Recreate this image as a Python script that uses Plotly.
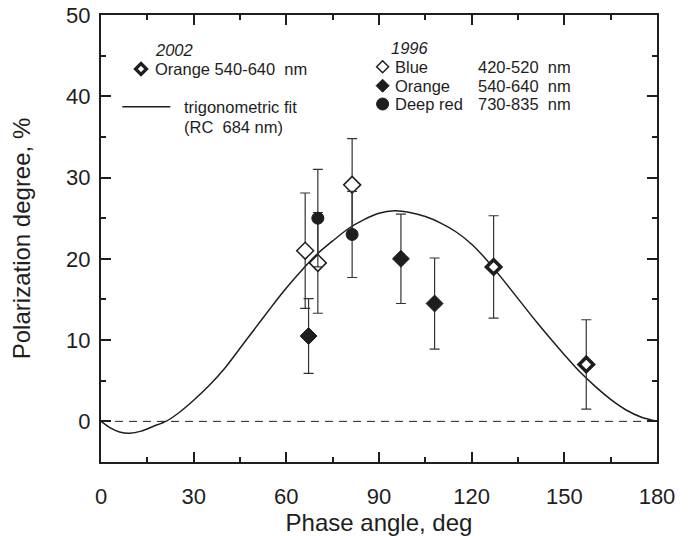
import plotly.graph_objects as go

# ---------------- data ----------------
blue96_angle = [66.1, 70.2, 81.3]
blue96_pol = [21.0, 19.5, 29.1]
blue96_err = [7.1, 6.2, 5.7]

orange96_angle = [67.2, 97.1, 108.0]
orange96_pol = [10.5, 20.0, 14.5]
orange96_err = [4.6, 5.5, 5.6]

red96_angle = [70.2, 81.3]
red96_pol = [25.0, 23.0]
red96_err = [6.0, 5.3]

orange02_angle = [127.1, 157.1]
orange02_pol = [19.0, 7.0]
orange02_err = [6.3, 5.5]

fit_angle = [0, 3, 6, 9.3, 13, 17, 21, 25, 30, 35, 40, 45, 50, 55, 60, 65, 70, 75, 80,
             85, 90, 95, 100, 105, 110, 115, 120, 125, 130, 135, 140, 145, 150, 155,
             160, 165, 170, 175, 180]
fit_pol = [0, -0.8, -1.3, -1.45, -1.2, -0.6, 0, 1.0, 2.6, 4.4, 6.5, 9.0, 11.5, 14.0, 16.4,
           18.6, 20.6, 22.2, 23.7, 24.8, 25.6, 25.9, 25.7, 25.2, 24.4, 23.3, 21.8, 19.8,
           17.5, 15.1, 12.7, 10.4, 8.2, 6.1, 4.3, 2.7, 1.4, 0.5, 0]

x_ticks = [0, 30, 60, 90, 120, 150, 180]
y_ticks = [0, 10, 20, 30, 40, 50]

INK = "#1e1e1e"
FONT = "Liberation Sans, Arial, sans-serif"

# plot area in pixels (for placing legend decorations)
L, R, T, B = 100.7, 656.7, 15.0, 462.0


def px(x):
    return (x - L) / (R - L)


def py(y):
    return (B - y) / (B - T)


fig = go.Figure()

fig.add_trace(go.Scatter(x=fit_angle, y=fit_pol, mode="lines",
                         line=dict(color=INK, width=1.5, shape="spline", smoothing=0.6),
                         hoverinfo="skip"))


def pts(xs, ys, errs, symbol, fill, lw, size):
    fig.add_trace(go.Scatter(
        x=xs, y=ys, mode="markers",
        error_y=dict(type="data", array=errs, visible=True, color="#333333",
                     thickness=1.2, width=5),
        marker=dict(symbol=symbol, size=size, color=fill, line=dict(color=INK, width=lw))))


pts(orange96_angle, orange96_pol, orange96_err, "diamond", INK, 1, 13)
pts(blue96_angle, blue96_pol, blue96_err, "diamond", "white", 1.5, 13)
pts(red96_angle, red96_pol, red96_err, "circle", INK, 1, 12)
pts(orange02_angle, orange02_pol, orange02_err, "diamond", "white", 3.5, 11)

shapes = [
    dict(type="line", xref="paper", x0=0, x1=1, yref="y", y0=0, y1=0,
         line=dict(color=INK, width=1, dash="8px,6px"), layer="below"),
    dict(type="line", xref="paper", yref="paper", x0=px(122), x1=px(170),
         y0=py(106.7), y1=py(106.7), line=dict(color=INK, width=1.5)),
]


def diamond(cx, cy, fill, lw, r=6):
    return dict(type="path", xref="paper", yref="paper", xsizemode="pixel", ysizemode="pixel",
                xanchor=px(cx), yanchor=py(cy),
                path=f"M 0 {r} L {r} 0 L 0 {-r} L {-r} 0 Z",
                fillcolor=fill, line=dict(color=INK, width=lw))


shapes.append(diamond(140.7, 69, "white", 3.2, 5.5))
shapes.append(diamond(382.3, 66.7, "white", 1.5, 6))
shapes.append(diamond(382.3, 85.7, INK, 1, 6.5))
shapes.append(dict(type="circle", xref="paper", yref="paper", xsizemode="pixel", ysizemode="pixel",
                   xanchor=px(382.3), yanchor=py(104), x0=-6, x1=6, y0=-6, y1=6,
                   fillcolor=INK, line=dict(color=INK, width=1)))

NB = "\u00a0"
ann_items = [
    ("<i>2002</i>", 153, 50),
    (f"Orange 540-640{NB}{NB}nm", 153, 69),
    ("trigonometric fit", 182, 107),
    (f"(RC{NB}{NB}684 nm)", 182, 127),
    ("<i>1996</i>", 389, 48.3),
    ("Blue", 393, 66.7),
    ("Orange", 393, 85.7),
    ("Deep red", 393, 104),
    (f"420-520{NB}{NB}nm", 476, 66.7),
    (f"540-640{NB}{NB}nm", 476, 85.7),
    (f"730-835{NB}{NB}nm", 476, 104),
]
annotations = [dict(text=t, x=px(x), y=py(y), xref="paper", yref="paper",
                    xanchor="left", yanchor="middle", showarrow=False,
                    font=dict(family=FONT, size=16.5, color=INK))
               for t, x, y in ann_items]

axis_common = dict(showgrid=False, zeroline=False, showline=True, linecolor=INK, linewidth=2,
                   mirror="ticks", ticks="inside", ticklen=10, tickwidth=1.5, tickcolor=INK,
                   automargin=False,
                   tickfont=dict(family=FONT, size=22, color=INK))

fig.update_layout(
    width=696, height=536,
    margin=dict(l=L, r=696 - R, t=T, b=536 - B, autoexpand=False),
    paper_bgcolor="white", plot_bgcolor="white",
    showlegend=False,
    shapes=shapes, annotations=annotations,
    font=dict(family=FONT, color=INK),
    xaxis=dict(range=[0, 180], tickvals=x_ticks, ticktext=[str(v) for v in x_ticks],
               minor=dict(dtick=15, tick0=0, ticks="inside", ticklen=5, tickwidth=1.5, tickcolor=INK),
               title=dict(text="Phase angle, deg", font=dict(family=FONT, size=24, color=INK), standoff=1),
               ticklabelstandoff=14, **axis_common),
    yaxis=dict(range=[-5, 50], tickvals=y_ticks, ticktext=[str(v) for v in y_ticks],
               minor=dict(dtick=5, tick0=0, ticks="inside", ticklen=5, tickwidth=1.5, tickcolor=INK),
               title=dict(text="Polarization degree, %", font=dict(family=FONT, size=24, color=INK), standoff=29),
               ticklabelstandoff=4, **axis_common),
)

fig.write_html("out.html", config={"displayModeBar": False},
               post_script="document.body.style.margin='0';document.body.style.padding='0';")
